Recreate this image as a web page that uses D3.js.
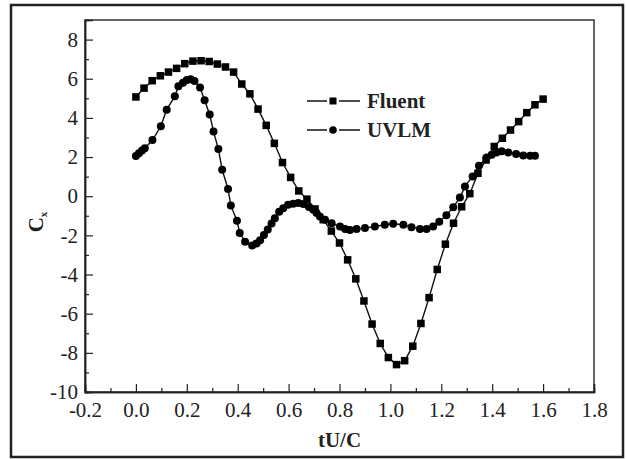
<!DOCTYPE html>
<html>
<head>
<meta charset="utf-8">
<script src="https://cdn.jsdelivr.net/npm/d3@7"></script>
<style>
  body { margin: 0; background: #fff; }
  svg text { font-family: "Liberation Serif", "Times New Roman", Times, serif !important; fill: #222; }
  .lab { font-size: 21px; font-weight: bold; }
</style>
</head>
<body>
<div id="chart"></div>
<script>
// Fluent (square markers)
const fluentX = [0.000, 0.032, 0.064, 0.096, 0.128, 0.160, 0.192, 0.224, 0.256, 0.288,
                 0.320, 0.352, 0.384, 0.416, 0.448, 0.480, 0.512, 0.544, 0.576, 0.608,
                 0.640, 0.672, 0.704, 0.736, 0.768, 0.800, 0.832, 0.864, 0.896, 0.928,
                 0.960, 0.992, 1.024, 1.056, 1.088, 1.120, 1.152, 1.184, 1.216, 1.248,
                 1.280, 1.312, 1.344, 1.376, 1.408, 1.440, 1.472, 1.504, 1.536, 1.568, 1.600];
const fluentY = [5.07, 5.52, 5.90, 6.15, 6.34, 6.53, 6.77, 6.90, 6.92, 6.88,
                 6.75, 6.60, 6.34, 5.73, 5.23, 4.45, 3.62, 2.70, 1.72, 0.96,
                 0.27, -0.15, -0.65, -1.20, -1.78, -2.39, -3.25, -4.22, -5.35, -6.53,
                 -7.52, -8.24, -8.60, -8.40, -7.66, -6.50, -5.18, -3.74, -2.45, -1.38,
                 -0.54, 0.13, 1.17, 1.85, 2.54, 2.96, 3.38, 3.81, 4.27, 4.67, 4.96];

// UVLM (circle markers)
const uvlmX = [0.000, 0.012, 0.024, 0.035, 0.065, 0.098, 0.121, 0.153, 0.167, 0.185,
               0.200, 0.215, 0.230, 0.252, 0.270, 0.290, 0.305, 0.324, 0.339, 0.362,
               0.373, 0.397, 0.408, 0.429, 0.457, 0.474, 0.488, 0.503, 0.518, 0.533,
               0.546, 0.563, 0.579, 0.598, 0.618, 0.638, 0.658, 0.680, 0.697, 0.710,
               0.723, 0.743, 0.769, 0.802, 0.822, 0.841, 0.867, 0.900, 0.939, 0.978,
               1.011, 1.051, 1.083, 1.116, 1.142, 1.168, 1.192, 1.220, 1.247, 1.273,
               1.293, 1.323, 1.348, 1.378, 1.398, 1.417, 1.437, 1.463, 1.494, 1.522,
               1.549, 1.568];
const uvlmY = [2.05, 2.20, 2.33, 2.45, 2.87, 3.57, 4.42, 5.10, 5.62, 5.80,
               5.94, 5.98, 5.88, 5.55, 4.90, 4.17, 3.30, 2.41, 1.35, 0.37,
               -0.47, -1.25, -1.88, -2.33, -2.52, -2.42, -2.25, -1.98, -1.70, -1.40,
               -1.12, -0.80, -0.61, -0.44, -0.39, -0.35, -0.40, -0.55, -0.69, -0.86,
               -1.03, -1.20, -1.38, -1.55, -1.68, -1.72, -1.68, -1.63, -1.55, -1.46,
               -1.41, -1.46, -1.58, -1.67, -1.68, -1.55, -1.30, -0.97, -0.56, -0.07,
               0.50, 1.01, 1.55, 1.98, 2.12, 2.23, 2.30, 2.23, 2.16, 2.08,
               2.07, 2.07];

const xTicks = [-0.2, 0.0, 0.2, 0.4, 0.6, 0.8, 1.0, 1.2, 1.4, 1.6, 1.8];
const xMinor = [-0.1, 0.1, 0.3, 0.5, 0.7, 0.9, 1.1, 1.3, 1.5, 1.7];
const yTicks = [-10, -8, -6, -4, -2, 0, 2, 4, 6, 8];
const yMinor = [-9, -7, -5, -3, -1, 1, 3, 5, 7];

const width = 626, height = 459;
const plotLeft = 85, plotRight = 594, plotTop = 20, plotBottom = 392;

const svg = d3.select("#chart").append("svg")
    .attr("width", width)
    .attr("height", height);

// outer frame
svg.append("rect")
    .attr("x", 11).attr("y", 5)
    .attr("width", 612).attr("height", 452)
    .attr("fill", "none")
    .attr("stroke", "#222")
    .attr("stroke-width", 2.5);

const x = d3.scaleLinear().domain([-0.2, 1.8]).range([plotLeft, plotRight]);
const y = d3.scaleLinear().domain([-10, 9]).range([plotBottom, plotTop]);

// plot box
svg.append("rect")
    .attr("x", plotLeft).attr("y", plotTop)
    .attr("width", plotRight - plotLeft).attr("height", plotBottom - plotTop)
    .attr("fill", "none")
    .attr("stroke", "#333")
    .attr("stroke-width", 1.5);

const fmtY = d => d < 0 ? "-" + Math.abs(d) : "" + d;
const fmtX = d => d < 0 ? "-" + Math.abs(d).toFixed(1) : d.toFixed(1);

svg.append("g")
    .attr("transform", "translate(0," + plotBottom + ")")
    .call(d3.axisBottom(x).tickValues(xTicks).tickFormat(fmtX).tickSize(-8).tickPadding(10));
svg.append("g")
    .attr("transform", "translate(0," + plotBottom + ")")
    .call(d3.axisBottom(x).tickValues(xMinor).tickFormat("").tickSize(-4));

svg.append("g")
    .attr("transform", "translate(" + plotLeft + ",0)")
    .call(d3.axisLeft(y).tickValues(yTicks).tickFormat(fmtY).tickSize(-8).tickPadding(7));
svg.append("g")
    .attr("transform", "translate(" + plotLeft + ",0)")
    .call(d3.axisLeft(y).tickValues(yMinor).tickFormat("").tickSize(-4));

svg.selectAll(".domain").attr("stroke", "#222").attr("stroke-width", 1.5);
svg.selectAll(".tick line").attr("stroke", "#222").attr("stroke-width", 1.2);
svg.selectAll(".tick text").attr("fill", "#222").attr("font-size", 21);

// axis titles
svg.append("text")
    .attr("class", "lab")
    .attr("x", (plotLeft + plotRight) / 2)
    .attr("y", 447)
    .attr("text-anchor", "middle")
    .text("tU/C");

const yl = svg.append("text")
    .attr("class", "lab")
    .attr("transform", "translate(43,222) rotate(-90)")
    .attr("text-anchor", "middle");
yl.append("tspan").text("C");
yl.append("tspan").attr("font-size", 11).attr("dy", 4).text("x");

// series
const fluent = fluentX.map((d, i) => [d, fluentY[i]]);
const uvlm = uvlmX.map((d, i) => [d, uvlmY[i]]);

const line = d3.line().x(d => x(d[0])).y(d => y(d[1]));

svg.append("path")
    .datum(fluent)
    .attr("d", line)
    .attr("fill", "none")
    .attr("stroke", "#111")
    .attr("stroke-width", 1.4);

svg.append("path")
    .datum(uvlm)
    .attr("d", line)
    .attr("fill", "none")
    .attr("stroke", "#111")
    .attr("stroke-width", 1.4);

const sq = 7.5;
svg.append("g").selectAll("rect")
    .data(fluent)
    .enter()
    .append("rect")
        .attr("x", d => x(d[0]) - sq / 2)
        .attr("y", d => y(d[1]) - sq / 2)
        .attr("width", sq)
        .attr("height", sq)
        .attr("fill", "#000");

svg.append("g").selectAll("circle")
    .data(uvlm)
    .enter()
    .append("circle")
        .attr("cx", d => x(d[0]))
        .attr("cy", d => y(d[1]))
        .attr("r", 4)
        .attr("fill", "#000");

// legend
const legend = [["Fluent", "square", 101], ["UVLM", "circle", 130]];
legend.forEach(([name, shape, ly]) => {
    const g = svg.append("g");
    g.append("line").attr("x1", 307).attr("x2", 327).attr("y1", ly).attr("y2", ly)
        .attr("stroke", "#111").attr("stroke-width", 1.5);
    g.append("line").attr("x1", 339).attr("x2", 360).attr("y1", ly).attr("y2", ly)
        .attr("stroke", "#111").attr("stroke-width", 1.5);
    if (shape === "square") {
        g.append("rect").attr("x", 333 - 3.5).attr("y", ly - 3.5)
            .attr("width", 7).attr("height", 7).attr("fill", "#000");
    } else {
        g.append("circle").attr("cx", 333).attr("cy", ly).attr("r", 3.8).attr("fill", "#000");
    }
    g.append("text")
        .attr("class", "lab")
        .attr("x", 367)
        .attr("y", ly + 7)
        .text(name);
});
</script>
</body>
</html>
